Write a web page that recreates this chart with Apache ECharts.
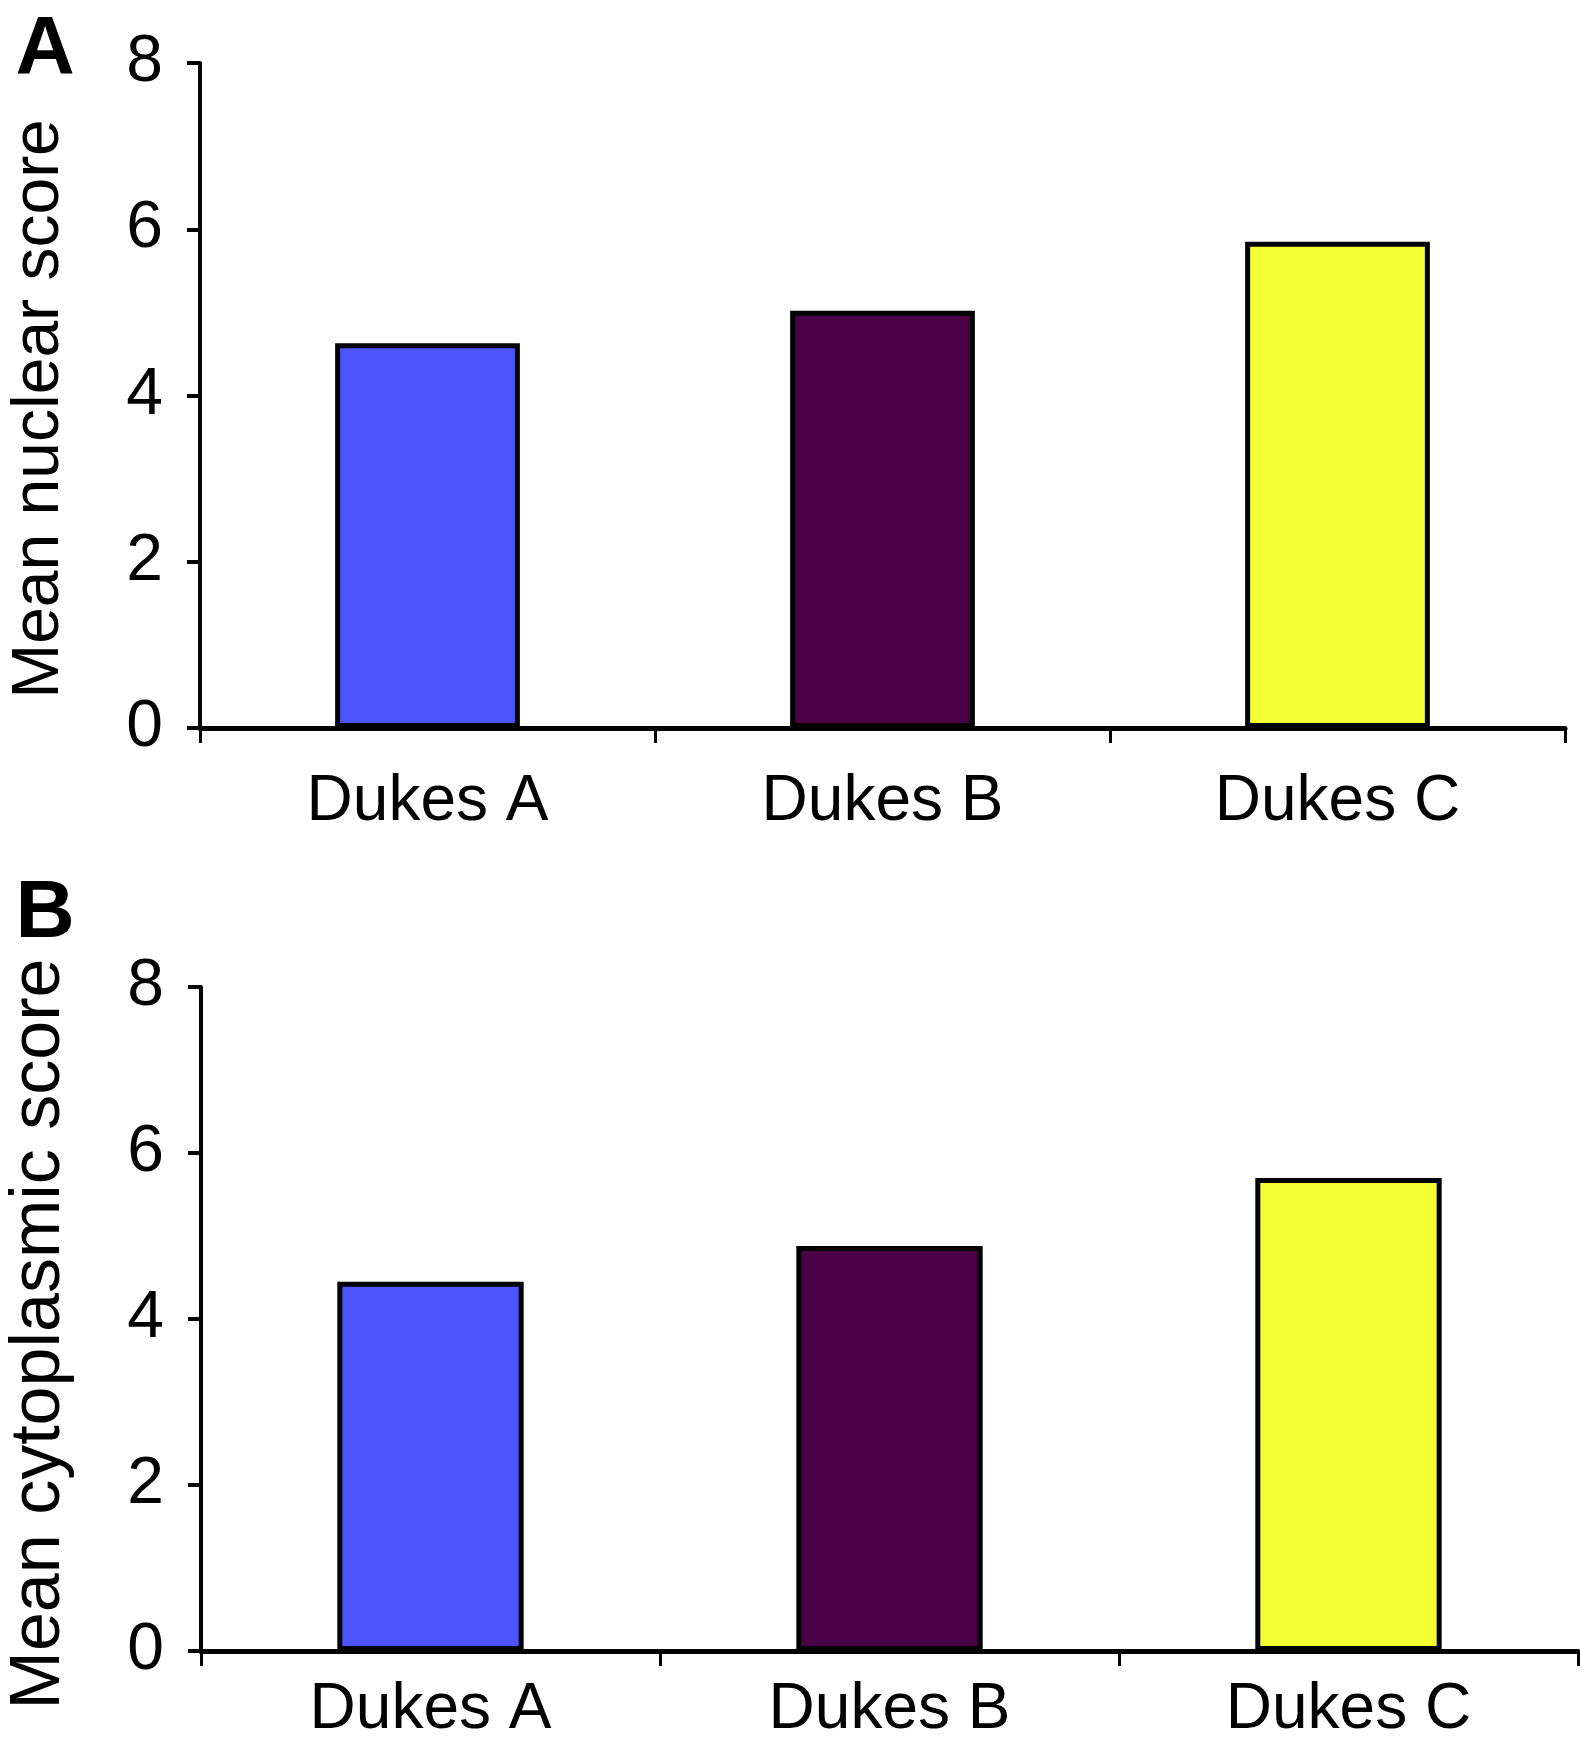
<!DOCTYPE html>
<html>
<head>
<meta charset="utf-8">
<script src="https://cdn.jsdelivr.net/npm/echarts@6/dist/echarts.min.js"></script>
<style>
html,body{margin:0;padding:0;background:#fff;}
#chart{width:1580px;height:1748px;}
</style>
</head>
<body>
<div id="chart"></div>
<script>
var categories = ['Dukes A', 'Dukes B', 'Dukes C'];
var nuclearScores = [4.63, 5.02, 5.85];
var cytoplasmicScores = [4.45, 4.88, 5.70];
var yMin = 0, yMax = 8, yStep = 2;
var barColors = ['#4d55ff', '#4a0044', '#f3ff33'];
var panelLetters = ['A', 'B'];
var axisTitles = ['Mean nuclear score', 'Mean cytoplasmic score'];

var FONT = '"Liberation Sans", Arial, Helvetica, sans-serif';

function xAxisFor(gridIndex, margin) {
  return {
    type: 'category', gridIndex: gridIndex, data: categories,
    boundaryGap: true,
    axisLine: {show: true, onZero: false, lineStyle: {color: '#000', width: 5}},
    axisTick: {show: true, alignWithLabel: false, length: 15, lineStyle: {color: '#000', width: 3}},
    axisLabel: {color: '#000', fontSize: 64, fontFamily: FONT, margin: margin, interval: 0},
    splitLine: {show: false}
  };
}
function yAxisFor(gridIndex) {
  return {
    type: 'value', gridIndex: gridIndex, min: yMin, max: yMax, interval: yStep,
    axisLine: {show: true, lineStyle: {color: '#000', width: 4}},
    axisTick: {show: true, length: 13, lineStyle: {color: '#000', width: 4}},
    axisLabel: {color: '#000', fontSize: 66, fontFamily: FONT, margin: 37},
    splitLine: {show: false}
  };
}
function barSeries(idx, values) {
  return {
    type: 'bar', xAxisIndex: idx, yAxisIndex: idx,
    barWidth: '40.6%',
    data: values.map(function (v, i) {
      return {value: v, itemStyle: {color: barColors[i]}};
    }),
    itemStyle: {borderColor: '#000', borderWidth: 5},
    silent: true, animation: false
  };
}

var chart = echarts.init(document.getElementById('chart'), null, {renderer: 'canvas'});
chart.setOption({
  backgroundColor: '#fff',
  animation: false,
  grid: [
    {left: 200, right: 15, top: 63, height: 665},
    {left: 201, right: 2, top: 987, height: 664}
  ],
  xAxis: [xAxisFor(0, 42), xAxisFor(1, 27)],
  yAxis: [yAxisFor(0), yAxisFor(1)],
  series: [barSeries(0, nuclearScores), barSeries(1, cytoplasmicScores)],
  graphic: [
    {type: 'text', x: 45, y: 50, style: {text: panelLetters[0], font: 'bold 82px ' + FONT, fill: '#000', align: 'center', verticalAlign: 'middle'}},
    {type: 'text', x: 45, y: 914, style: {text: panelLetters[1], font: 'bold 82px ' + FONT, fill: '#000', align: 'center', verticalAlign: 'middle'}},
    {type: 'text', x: 40, y: 409, rotation: Math.PI / 2, style: {text: axisTitles[0], font: '66px ' + FONT, fill: '#000', align: 'center', verticalAlign: 'middle'}},
    {type: 'text', x: 40, y: 1334, rotation: Math.PI / 2, style: {text: axisTitles[1], font: '70px ' + FONT, fill: '#000', align: 'center', verticalAlign: 'middle'}}
  ]
});
</script>
</body>
</html>
